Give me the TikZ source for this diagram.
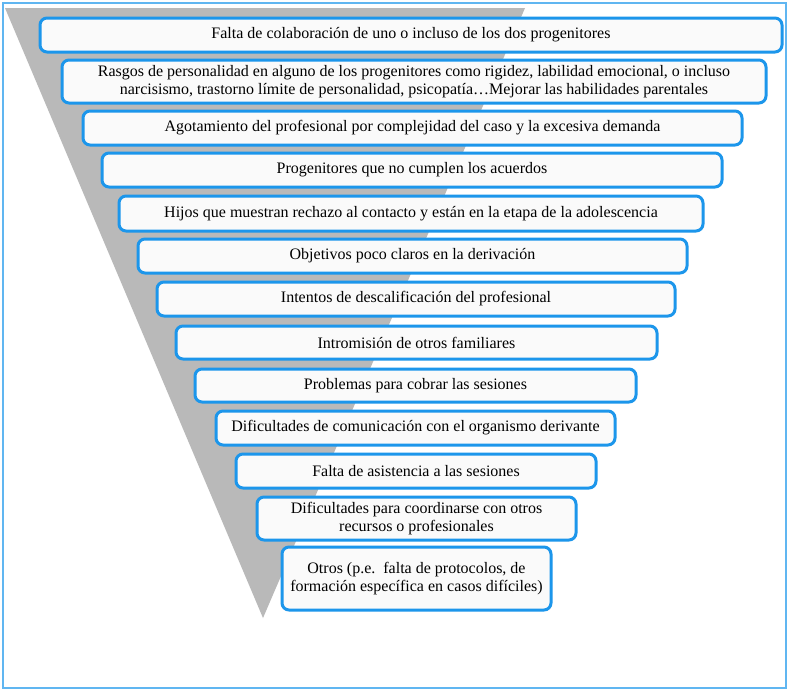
\documentclass[tikz,border=0pt]{standalone}
\usepackage{fontspec}
\setmainfont{Liberation Serif}
\definecolor{bl}{RGB}{28,150,235}
\begin{document}
\begin{tikzpicture}[x=1pt,y=-1pt,
  bx/.style={draw=bl,line width=3pt,rounded corners=7pt,fill=gray!4,align=center,font=\fontsize{16}{18}\selectfont,inner sep=0pt}]
\useasboundingbox (0,0) rectangle (790,694);
\fill[white] (0,0) rectangle (790,694);
\draw[bl!70,line width=1.3pt] (3,3) rectangle (786,688);
\fill[gray!55] (5,8) -- (525,8) -- (263,618) -- cycle;
\newcommand\bb[6]{\node[bx,minimum width=#4-#2,minimum height=#5-#3] (#1) at ({(#2+#4)/2},{(#3+#5)/2}) {#6};}
\bb{b1}{40}{18}{782}{52}{Falta de colaboración de uno o incluso de los dos progenitores}
\bb{b2}{62}{60}{766}{103}{Rasgos de personalidad en alguno de los progenitores como rigidez, labilidad emocional, o incluso\\narcisismo, trastorno límite de personalidad, psicopatía…Mejorar las habilidades parentales}
\bb{b3}{83}{111}{742}{145}{Agotamiento del profesional por complejidad del caso y la excesiva demanda}
\bb{b4}{102}{153}{722}{187}{Progenitores que no cumplen los acuerdos}
\bb{b5}{119}{196}{703}{231}{Hijos que muestran rechazo al contacto y están en la etapa de la adolescencia}
\bb{b6}{138}{239}{687}{273}{Objetivos poco claros en la derivación}
\bb{b7}{157}{282}{675}{316}{Intentos de descalificación del profesional}
\bb{b8}{176}{326}{657}{359}{Intromisión de otros familiares}
\bb{b9}{195}{369}{636}{402}{Problemas para cobrar las sesiones}
\bb{b10}{216}{411}{615}{445}{Dificultades de comunicación con el organismo derivante}
\bb{b11}{236}{454}{596}{488}{Falta de asistencia a las sesiones}
\bb{b12}{257}{497}{576}{540}{Dificultades para coordinarse con otros\\recursos o profesionales}
\bb{b13}{282}{547}{551}{610}{Otros (p.e.\ \ falta de protocolos, de\\formación específica en casos difíciles)}
\end{tikzpicture}
\end{document}
